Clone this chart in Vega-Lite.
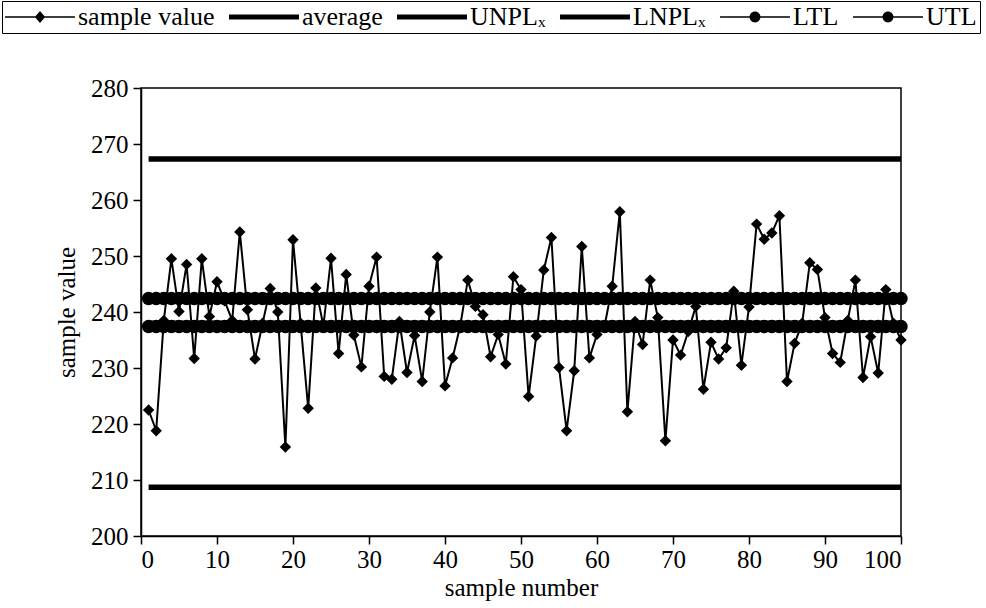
{
  "$schema": "https://vega.github.io/schema/vega-lite/v6.json",
  "width": 760,
  "height": 448,
  "autosize": {"type": "none"},
  "padding": {"left": 141, "top": 88, "right": 85, "bottom": 72},
  "background": "white",
  "config": {
    "font": "Liberation Serif",
    "view": {"stroke": "black", "strokeWidth": 1.5},
    "axis": {
      "grid": false,
      "labelFont": "Liberation Serif",
      "titleFont": "Liberation Serif",
      "labelFontSize": 25,
      "titleFontSize": 25,
      "titleFontWeight": "normal",
      "labelColor": "black",
      "titleColor": "black",
      "domainColor": "black",
      "tickColor": "black",
      "domainWidth": 1.5,
      "tickWidth": 1.5,
      "tickSize": 8
    }
  },
  "data": {"values": [
    {"n":1,"sample":222.5,"avg":238,"unpl":267.3,"lnpl":208.7,"ltl":237.4,"utl":242.4},
    {"n":2,"sample":218.8,"avg":238,"unpl":267.3,"lnpl":208.7,"ltl":237.4,"utl":242.4},
    {"n":3,"sample":238.5,"avg":238,"unpl":267.3,"lnpl":208.7,"ltl":237.4,"utl":242.4},
    {"n":4,"sample":249.5,"avg":238,"unpl":267.3,"lnpl":208.7,"ltl":237.4,"utl":242.4},
    {"n":5,"sample":240.1,"avg":238,"unpl":267.3,"lnpl":208.7,"ltl":237.4,"utl":242.4},
    {"n":6,"sample":248.5,"avg":238,"unpl":267.3,"lnpl":208.7,"ltl":237.4,"utl":242.4},
    {"n":7,"sample":231.7,"avg":238,"unpl":267.3,"lnpl":208.7,"ltl":237.4,"utl":242.4},
    {"n":8,"sample":249.5,"avg":238,"unpl":267.3,"lnpl":208.7,"ltl":237.4,"utl":242.4},
    {"n":9,"sample":239.2,"avg":238,"unpl":267.3,"lnpl":208.7,"ltl":237.4,"utl":242.4},
    {"n":10,"sample":245.4,"avg":238,"unpl":267.3,"lnpl":208.7,"ltl":237.4,"utl":242.4},
    {"n":11,"sample":242.0,"avg":238,"unpl":267.3,"lnpl":208.7,"ltl":237.4,"utl":242.4},
    {"n":12,"sample":238.5,"avg":238,"unpl":267.3,"lnpl":208.7,"ltl":237.4,"utl":242.4},
    {"n":13,"sample":254.3,"avg":238,"unpl":267.3,"lnpl":208.7,"ltl":237.4,"utl":242.4},
    {"n":14,"sample":240.4,"avg":238,"unpl":267.3,"lnpl":208.7,"ltl":237.4,"utl":242.4},
    {"n":15,"sample":231.6,"avg":238,"unpl":267.3,"lnpl":208.7,"ltl":237.4,"utl":242.4},
    {"n":16,"sample":238.0,"avg":238,"unpl":267.3,"lnpl":208.7,"ltl":237.4,"utl":242.4},
    {"n":17,"sample":244.2,"avg":238,"unpl":267.3,"lnpl":208.7,"ltl":237.4,"utl":242.4},
    {"n":18,"sample":240.0,"avg":238,"unpl":267.3,"lnpl":208.7,"ltl":237.4,"utl":242.4},
    {"n":19,"sample":215.9,"avg":238,"unpl":267.3,"lnpl":208.7,"ltl":237.4,"utl":242.4},
    {"n":20,"sample":252.9,"avg":238,"unpl":267.3,"lnpl":208.7,"ltl":237.4,"utl":242.4},
    {"n":21,"sample":238.0,"avg":238,"unpl":267.3,"lnpl":208.7,"ltl":237.4,"utl":242.4},
    {"n":22,"sample":222.8,"avg":238,"unpl":267.3,"lnpl":208.7,"ltl":237.4,"utl":242.4},
    {"n":23,"sample":244.3,"avg":238,"unpl":267.3,"lnpl":208.7,"ltl":237.4,"utl":242.4},
    {"n":24,"sample":237.5,"avg":238,"unpl":267.3,"lnpl":208.7,"ltl":237.4,"utl":242.4},
    {"n":25,"sample":249.6,"avg":238,"unpl":267.3,"lnpl":208.7,"ltl":237.4,"utl":242.4},
    {"n":26,"sample":232.6,"avg":238,"unpl":267.3,"lnpl":208.7,"ltl":237.4,"utl":242.4},
    {"n":27,"sample":246.7,"avg":238,"unpl":267.3,"lnpl":208.7,"ltl":237.4,"utl":242.4},
    {"n":28,"sample":235.9,"avg":238,"unpl":267.3,"lnpl":208.7,"ltl":237.4,"utl":242.4},
    {"n":29,"sample":230.2,"avg":238,"unpl":267.3,"lnpl":208.7,"ltl":237.4,"utl":242.4},
    {"n":30,"sample":244.6,"avg":238,"unpl":267.3,"lnpl":208.7,"ltl":237.4,"utl":242.4},
    {"n":31,"sample":249.8,"avg":238,"unpl":267.3,"lnpl":208.7,"ltl":237.4,"utl":242.4},
    {"n":32,"sample":228.5,"avg":238,"unpl":267.3,"lnpl":208.7,"ltl":237.4,"utl":242.4},
    {"n":33,"sample":228.0,"avg":238,"unpl":267.3,"lnpl":208.7,"ltl":237.4,"utl":242.4},
    {"n":34,"sample":238.3,"avg":238,"unpl":267.3,"lnpl":208.7,"ltl":237.4,"utl":242.4},
    {"n":35,"sample":229.2,"avg":238,"unpl":267.3,"lnpl":208.7,"ltl":237.4,"utl":242.4},
    {"n":36,"sample":235.8,"avg":238,"unpl":267.3,"lnpl":208.7,"ltl":237.4,"utl":242.4},
    {"n":37,"sample":227.6,"avg":238,"unpl":267.3,"lnpl":208.7,"ltl":237.4,"utl":242.4},
    {"n":38,"sample":240.0,"avg":238,"unpl":267.3,"lnpl":208.7,"ltl":237.4,"utl":242.4},
    {"n":39,"sample":249.8,"avg":238,"unpl":267.3,"lnpl":208.7,"ltl":237.4,"utl":242.4},
    {"n":40,"sample":226.8,"avg":238,"unpl":267.3,"lnpl":208.7,"ltl":237.4,"utl":242.4},
    {"n":41,"sample":231.8,"avg":238,"unpl":267.3,"lnpl":208.7,"ltl":237.4,"utl":242.4},
    {"n":42,"sample":237.5,"avg":238,"unpl":267.3,"lnpl":208.7,"ltl":237.4,"utl":242.4},
    {"n":43,"sample":245.7,"avg":238,"unpl":267.3,"lnpl":208.7,"ltl":237.4,"utl":242.4},
    {"n":44,"sample":241.0,"avg":238,"unpl":267.3,"lnpl":208.7,"ltl":237.4,"utl":242.4},
    {"n":45,"sample":239.5,"avg":238,"unpl":267.3,"lnpl":208.7,"ltl":237.4,"utl":242.4},
    {"n":46,"sample":232.0,"avg":238,"unpl":267.3,"lnpl":208.7,"ltl":237.4,"utl":242.4},
    {"n":47,"sample":236.0,"avg":238,"unpl":267.3,"lnpl":208.7,"ltl":237.4,"utl":242.4},
    {"n":48,"sample":230.7,"avg":238,"unpl":267.3,"lnpl":208.7,"ltl":237.4,"utl":242.4},
    {"n":49,"sample":246.3,"avg":238,"unpl":267.3,"lnpl":208.7,"ltl":237.4,"utl":242.4},
    {"n":50,"sample":244.0,"avg":238,"unpl":267.3,"lnpl":208.7,"ltl":237.4,"utl":242.4},
    {"n":51,"sample":224.9,"avg":238,"unpl":267.3,"lnpl":208.7,"ltl":237.4,"utl":242.4},
    {"n":52,"sample":235.7,"avg":238,"unpl":267.3,"lnpl":208.7,"ltl":237.4,"utl":242.4},
    {"n":53,"sample":247.5,"avg":238,"unpl":267.3,"lnpl":208.7,"ltl":237.4,"utl":242.4},
    {"n":54,"sample":253.3,"avg":238,"unpl":267.3,"lnpl":208.7,"ltl":237.4,"utl":242.4},
    {"n":55,"sample":230.1,"avg":238,"unpl":267.3,"lnpl":208.7,"ltl":237.4,"utl":242.4},
    {"n":56,"sample":218.8,"avg":238,"unpl":267.3,"lnpl":208.7,"ltl":237.4,"utl":242.4},
    {"n":57,"sample":229.5,"avg":238,"unpl":267.3,"lnpl":208.7,"ltl":237.4,"utl":242.4},
    {"n":58,"sample":251.7,"avg":238,"unpl":267.3,"lnpl":208.7,"ltl":237.4,"utl":242.4},
    {"n":59,"sample":231.8,"avg":238,"unpl":267.3,"lnpl":208.7,"ltl":237.4,"utl":242.4},
    {"n":60,"sample":236.0,"avg":238,"unpl":267.3,"lnpl":208.7,"ltl":237.4,"utl":242.4},
    {"n":61,"sample":237.5,"avg":238,"unpl":267.3,"lnpl":208.7,"ltl":237.4,"utl":242.4},
    {"n":62,"sample":244.6,"avg":238,"unpl":267.3,"lnpl":208.7,"ltl":237.4,"utl":242.4},
    {"n":63,"sample":257.9,"avg":238,"unpl":267.3,"lnpl":208.7,"ltl":237.4,"utl":242.4},
    {"n":64,"sample":222.2,"avg":238,"unpl":267.3,"lnpl":208.7,"ltl":237.4,"utl":242.4},
    {"n":65,"sample":238.3,"avg":238,"unpl":267.3,"lnpl":208.7,"ltl":237.4,"utl":242.4},
    {"n":66,"sample":234.2,"avg":238,"unpl":267.3,"lnpl":208.7,"ltl":237.4,"utl":242.4},
    {"n":67,"sample":245.7,"avg":238,"unpl":267.3,"lnpl":208.7,"ltl":237.4,"utl":242.4},
    {"n":68,"sample":239.0,"avg":238,"unpl":267.3,"lnpl":208.7,"ltl":237.4,"utl":242.4},
    {"n":69,"sample":217.0,"avg":238,"unpl":267.3,"lnpl":208.7,"ltl":237.4,"utl":242.4},
    {"n":70,"sample":235.0,"avg":238,"unpl":267.3,"lnpl":208.7,"ltl":237.4,"utl":242.4},
    {"n":71,"sample":232.3,"avg":238,"unpl":267.3,"lnpl":208.7,"ltl":237.4,"utl":242.4},
    {"n":72,"sample":236.5,"avg":238,"unpl":267.3,"lnpl":208.7,"ltl":237.4,"utl":242.4},
    {"n":73,"sample":241.0,"avg":238,"unpl":267.3,"lnpl":208.7,"ltl":237.4,"utl":242.4},
    {"n":74,"sample":226.2,"avg":238,"unpl":267.3,"lnpl":208.7,"ltl":237.4,"utl":242.4},
    {"n":75,"sample":234.6,"avg":238,"unpl":267.3,"lnpl":208.7,"ltl":237.4,"utl":242.4},
    {"n":76,"sample":231.6,"avg":238,"unpl":267.3,"lnpl":208.7,"ltl":237.4,"utl":242.4},
    {"n":77,"sample":233.6,"avg":238,"unpl":267.3,"lnpl":208.7,"ltl":237.4,"utl":242.4},
    {"n":78,"sample":243.7,"avg":238,"unpl":267.3,"lnpl":208.7,"ltl":237.4,"utl":242.4},
    {"n":79,"sample":230.5,"avg":238,"unpl":267.3,"lnpl":208.7,"ltl":237.4,"utl":242.4},
    {"n":80,"sample":240.9,"avg":238,"unpl":267.3,"lnpl":208.7,"ltl":237.4,"utl":242.4},
    {"n":81,"sample":255.7,"avg":238,"unpl":267.3,"lnpl":208.7,"ltl":237.4,"utl":242.4},
    {"n":82,"sample":253.0,"avg":238,"unpl":267.3,"lnpl":208.7,"ltl":237.4,"utl":242.4},
    {"n":83,"sample":254.1,"avg":238,"unpl":267.3,"lnpl":208.7,"ltl":237.4,"utl":242.4},
    {"n":84,"sample":257.2,"avg":238,"unpl":267.3,"lnpl":208.7,"ltl":237.4,"utl":242.4},
    {"n":85,"sample":227.6,"avg":238,"unpl":267.3,"lnpl":208.7,"ltl":237.4,"utl":242.4},
    {"n":86,"sample":234.4,"avg":238,"unpl":267.3,"lnpl":208.7,"ltl":237.4,"utl":242.4},
    {"n":87,"sample":238.0,"avg":238,"unpl":267.3,"lnpl":208.7,"ltl":237.4,"utl":242.4},
    {"n":88,"sample":248.8,"avg":238,"unpl":267.3,"lnpl":208.7,"ltl":237.4,"utl":242.4},
    {"n":89,"sample":247.6,"avg":238,"unpl":267.3,"lnpl":208.7,"ltl":237.4,"utl":242.4},
    {"n":90,"sample":239.0,"avg":238,"unpl":267.3,"lnpl":208.7,"ltl":237.4,"utl":242.4},
    {"n":91,"sample":232.6,"avg":238,"unpl":267.3,"lnpl":208.7,"ltl":237.4,"utl":242.4},
    {"n":92,"sample":231.0,"avg":238,"unpl":267.3,"lnpl":208.7,"ltl":237.4,"utl":242.4},
    {"n":93,"sample":238.5,"avg":238,"unpl":267.3,"lnpl":208.7,"ltl":237.4,"utl":242.4},
    {"n":94,"sample":245.7,"avg":238,"unpl":267.3,"lnpl":208.7,"ltl":237.4,"utl":242.4},
    {"n":95,"sample":228.3,"avg":238,"unpl":267.3,"lnpl":208.7,"ltl":237.4,"utl":242.4},
    {"n":96,"sample":235.6,"avg":238,"unpl":267.3,"lnpl":208.7,"ltl":237.4,"utl":242.4},
    {"n":97,"sample":229.1,"avg":238,"unpl":267.3,"lnpl":208.7,"ltl":237.4,"utl":242.4},
    {"n":98,"sample":244.0,"avg":238,"unpl":267.3,"lnpl":208.7,"ltl":237.4,"utl":242.4},
    {"n":99,"sample":238.0,"avg":238,"unpl":267.3,"lnpl":208.7,"ltl":237.4,"utl":242.4},
    {"n":100,"sample":235.0,"avg":238,"unpl":267.3,"lnpl":208.7,"ltl":237.4,"utl":242.4}
  ]},
  "transform": [{"fold": ["sample", "avg", "unpl", "lnpl", "ltl", "utl"], "as": ["key", "val"]}],
  "encoding": {
    "x": {
      "field": "n", "type": "quantitative",
      "scale": {"domain": [0, 100], "nice": false, "zero": false},
      "axis": {"title": "sample number", "values": [0,10,20,30,40,50,60,70,80,90,100], "labelPadding": 3, "titlePadding": 3}
    },
    "y": {
      "field": "val", "type": "quantitative",
      "scale": {"domain": [200, 280], "nice": false, "zero": false},
      "axis": {"title": "sample value", "values": [200,210,220,230,240,250,260,270,280], "labelPadding": 5, "titlePadding": 11}
    }
  },
  "layer": [
    {
      "transform": [{"filter": {"field": "key", "oneOf": ["sample", "ltl", "utl"]}}],
      "mark": {"type": "line", "color": "black", "strokeWidth": 2},
      "encoding": {"detail": {"field": "key"}}
    },
    {
      "transform": [{"filter": {"field": "key", "oneOf": ["avg", "unpl", "lnpl"]}}],
      "mark": {"type": "line", "color": "black", "strokeWidth": 5.5},
      "encoding": {"detail": {"field": "key"}}
    },
    {
      "transform": [{"filter": {"field": "key", "oneOf": ["ltl", "utl"]}}],
      "mark": {"type": "point", "shape": "circle", "filled": true, "color": "black", "size": 180, "opacity": 1}
    },
    {
      "transform": [{"filter": {"field": "key", "equal": "sample"}}],
      "mark": {"type": "point", "shape": "diamond", "filled": true, "color": "black", "size": 130, "opacity": 1}
    },
    {
      "transform": [{"filter": "false"}],
      "mark": {"type": "point", "filled": true, "color": "black", "opacity": 1},
      "encoding": {
        "shape": {
          "field": "key", "type": "nominal",
          "scale": {
            "domain": ["sample", "avg", "unpl", "lnpl", "ltl", "utl"],
            "range": [
              "M-2.69,-0.06H2.69V0.06H-2.69Z M0,-0.46L0.4,0L0,0.46L-0.4,0Z",
              "M-2.69,-0.19H2.69V0.19H-2.69Z",
              "M-2.69,-0.19H2.69V0.19H-2.69Z",
              "M-2.69,-0.19H2.69V0.19H-2.69Z",
              "M-2.69,-0.06H2.69V0.06H-2.69Z M0.42,0A0.42,0.42 0 1,1 -0.42,0A0.42,0.42 0 1,1 0.42,0Z",
              "M-2.69,-0.06H2.69V0.06H-2.69Z M0.42,0A0.42,0.42 0 1,1 -0.42,0A0.42,0.42 0 1,1 0.42,0Z"
            ]
          },
          "legend": {
            "orient": "none",
            "legendX": -139,
            "legendY": -87,
            "direction": "horizontal",
            "title": null,
            "labelFont": "Liberation Serif",
            "labelFontSize": 26,
            "labelColor": "black",
            "labelLimit": 0,
            "labelOffset": 25,
            "symbolSize": 676,
            "symbolOffset": 22,
            "symbolStrokeWidth": 0,
            "symbolFillColor": "black",
            "symbolOpacity": 1,
            "strokeColor": "black",
            "padding": 3,
            "columnPadding": 14,
            "labelExpr": "{'sample':'sample value','avg':'average','unpl':'UNPLₓ','lnpl':'LNPLₓ','ltl':'LTL','utl':'UTL'}[datum.label]"
          }
        }
      }
    }
  ]
}
